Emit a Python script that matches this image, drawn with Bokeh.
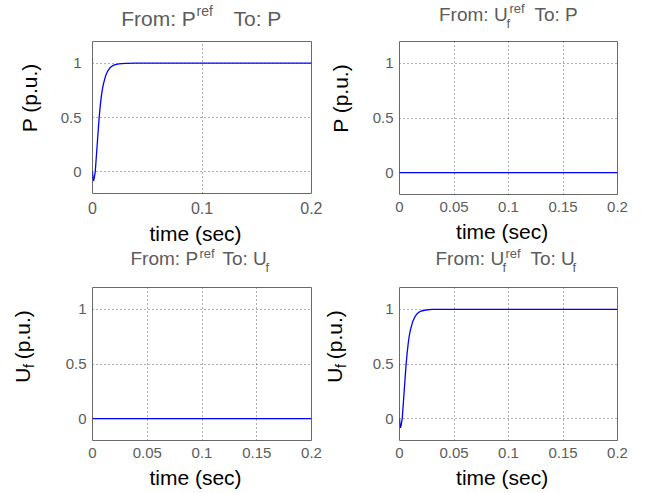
import math
from bokeh.plotting import figure
from bokeh.layouts import column, row
from bokeh.models import FixedTicker, Range1d, CustomJSTickFormatter
from bokeh.core.properties import value
from bokeh.embed import file_html
from bokeh.resources import INLINE

# ---- data (step responses) ----
time_s = [0.0, 0.0005, 0.0009, 0.0015, 0.0025, 0.003, 0.004, 0.005, 0.006,
          0.007, 0.008, 0.009, 0.010, 0.012, 0.014, 0.016, 0.018, 0.020,
          0.024, 0.030, 0.040, 0.200]
p_from_pref = [0.0, -0.06, -0.085, -0.06, 0.0, 0.07, 0.21, 0.35, 0.49,
               0.60, 0.69, 0.76, 0.81, 0.885, 0.93, 0.958, 0.975, 0.985,
               0.994, 0.999, 1.0, 1.0]
uf_from_ufref = [0.0, -0.06, -0.085, -0.06, 0.0, 0.07, 0.21, 0.35, 0.49,
                 0.60, 0.69, 0.76, 0.81, 0.885, 0.93, 0.958, 0.975, 0.985,
                 0.994, 0.999, 1.0, 1.0]
flat_time = [0.0, 0.2]
p_from_ufref = [0.0, 0.0]
uf_from_pref = [0.0, 0.0]

x_ticks_coarse = [0, 0.1, 0.2]
x_ticks_fine = [0, 0.05, 0.1, 0.15, 0.2]
y_ticks = [0, 0.5, 1]
x_range = (0.0, 0.2)
y_range = (-0.2, 1.2)

FONT = "Liberation Sans"
GRAY = "#5c5c5c"
BLUE = "#0000ff"
UP = math.pi / 2
MID = 0.3465  # distance (in em) from the text's middle down to its baseline


def main_panel(w, h, bl, br, bb, xt, x_font, y_standoff, x_standoff):
    p = figure(width=w, height=h, min_border_left=bl, min_border_right=br,
               min_border_top=0, min_border_bottom=bb, title=None,
               x_range=Range1d(*x_range), y_range=Range1d(*y_range),
               output_backend="svg", toolbar_location=None, tools="")
    p.background_fill_color = "white"
    p.border_fill_color = "white"
    p.outline_line_color = "#6a6a6a"
    p.outline_line_width = 1
    fmt = CustomJSTickFormatter(code="return String(Math.round(tick*1000)/1000);")
    for ax in (p.xaxis[0], p.yaxis[0]):
        ax.axis_line_color = None
        ax.major_tick_line_color = None
        ax.minor_tick_line_color = None
        ax.major_tick_out = 0
        ax.major_tick_in = 0
        ax.formatter = fmt
        ax.major_label_text_color = GRAY
        ax.major_label_text_font = FONT
    p.xaxis[0].ticker = FixedTicker(ticks=xt)
    p.yaxis[0].ticker = FixedTicker(ticks=y_ticks)
    p.xaxis[0].major_label_text_font_size = x_font
    p.yaxis[0].major_label_text_font_size = "15px"
    p.xaxis[0].major_label_standoff = x_standoff
    p.yaxis[0].major_label_standoff = y_standoff
    for g in (p.xgrid[0], p.ygrid[0]):
        g.grid_line_color = "#3a3a3a"
        g.grid_line_alpha = 0.8
        g.grid_line_dash = "1 3"
        g.grid_line_width = 1
    return p


def strip(x0, x1, y0, y1):
    # a blank text strip whose ranges are the page pixel coordinates it covers
    f = figure(width=x1 - x0, height=y1 - y0, title=None,
               x_range=Range1d(x0, x1), y_range=Range1d(y1, y0),
               x_axis_type=None, y_axis_type=None, min_border=0,
               output_backend="svg", toolbar_location=None, tools="")
    f.outline_line_color = None
    f.background_fill_color = "white"
    f.border_fill_color = "white"
    return f


def txt(f, x, y, s, size, color=GRAY, align="left"):
    # horizontal text; (x, y) is the wanted baseline point in page pixels
    f.text(x=[x], y=[y - MID * size], text=[s], text_font=value(FONT),
           text_font_size=value(f"{size}px"), text_color=color,
           text_baseline="middle", text_align=align)


def vtxt(f, xb, yc, s, size, color="black"):
    # text turned to read upwards; xb = baseline column, yc = centre along the text
    f.text(x=[xb - MID * size], y=[yc], text=[s], text_font=value(FONT),
           text_font_size=value(f"{size}px"), text_color=color,
           text_baseline="middle", text_align="center", angle=UP)


# ================= top left: From P^ref To P =================
t1 = strip(0, 322, 0, 41)
txt(t1, 120.7, 25, "From: P", 21)
txt(t1, 196, 15, "ref", 14)
txt(t1, 233, 25, "To: P", 21)
y1 = strip(0, 50, 41, 220)
vtxt(y1, 36.7, 107.2, "P (p.u.)", 21)
m1 = main_panel(272, 179, 42, 11, 27, x_ticks_coarse, "16px", 11, 8)
m1.line(time_s, p_from_pref, line_color=BLUE, line_width=1.3)
x1 = strip(0, 322, 220, 246)
txt(x1, 195, 240.5, "time (sec)", 21, color="black", align="center")
cell1 = column(t1, row(y1, m1), x1)

# ================= top right: From Uf^ref To P =================
t2 = strip(322, 650, 0, 41)
txt(t2, 438.5, 20.5, "From: U", 19)
txt(t2, 509, 13, "ref", 13)
txt(t2, 506, 28, "f", 13)
txt(t2, 534, 20.5, "To: P", 19)
y2 = strip(322, 365, 41, 219)
vtxt(y2, 347.3, 107.2, "P (p.u.)", 21)
m2 = main_panel(285, 178, 34, 33, 25, x_ticks_fine, "15px", 6, 7)
m2.line(flat_time, p_from_ufref, line_color=BLUE, line_width=1.3)
x2 = strip(322, 650, 219, 246)
txt(x2, 501.7, 238, "time (sec)", 21, color="black", align="center")
cell2 = column(t2, row(y2, m2), x2)

# ================= bottom left: From P^ref To Uf =================
t3 = strip(0, 322, 246, 287)
txt(t3, 130, 265, "From: P", 19)
txt(t3, 199, 258, "ref", 13)
txt(t3, 222, 265, "To: U", 19)
txt(t3, 265, 272, "f", 13)
y3 = strip(0, 50, 287, 465)
vtxt(y3, 29.5, 389, "U", 21)
vtxt(y3, 33.5, 378.5, "f", 14)
vtxt(y3, 29.5, 342, "(p.u.)", 21)
m3 = main_panel(272, 178, 42, 11, 25, x_ticks_fine, "15px", 6, 7)
m3.line(flat_time, uf_from_pref, line_color=BLUE, line_width=1.3)
x3 = strip(0, 322, 465, 493)
txt(x3, 195, 484, "time (sec)", 21, color="black", align="center")
cell3 = column(t3, row(y3, m3), x3)

# ================= bottom right: From Uf^ref To Uf =================
t4 = strip(322, 650, 246, 287)
txt(t4, 435, 265, "From: U", 19)
txt(t4, 505, 258, "ref", 13)
txt(t4, 502, 272, "f", 13)
txt(t4, 530, 265, "To: U", 19)
txt(t4, 572, 272, "f", 13)
y4 = strip(322, 365, 287, 465)
vtxt(y4, 341, 389, "U", 21)
vtxt(y4, 345, 378.5, "f", 14)
vtxt(y4, 341, 342, "(p.u.)", 21)
m4 = main_panel(285, 178, 34, 33, 25, x_ticks_fine, "15px", 6, 7)
m4.line(time_s, uf_from_ufref, line_color=BLUE, line_width=1.3)
x4 = strip(322, 650, 465, 493)
txt(x4, 501.7, 484, "time (sec)", 21, color="black", align="center")
cell4 = column(t4, row(y4, m4), x4)

layout = column(row(cell1, cell2), row(cell3, cell4))
open("out.html", "w").write(file_html(layout, INLINE))
